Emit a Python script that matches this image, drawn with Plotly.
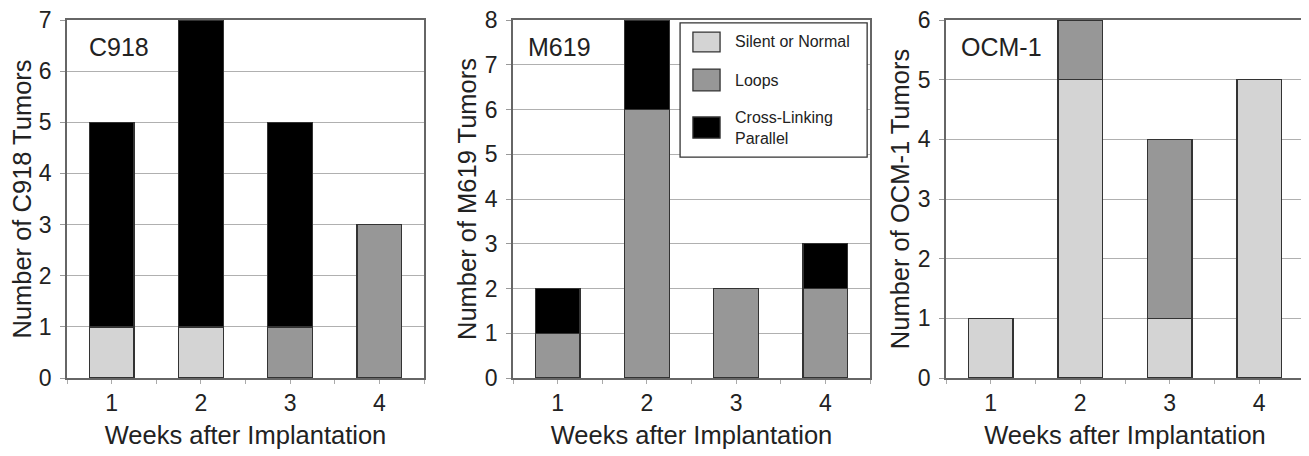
import plotly.graph_objects as go

weeks = [1, 2, 3, 4]

panels = ["C918", "M619", "OCM-1"]
y_titles = ["Number of C918 Tumors", "Number of M619 Tumors", "Number of OCM-1 Tumors"]
y_max = [7, 8, 6]

# stacked counts per panel: silent/normal, loops, cross-linking parallel
c918_silent = [1, 1, 0, 0]
c918_loops = [0, 0, 1, 3]
c918_cross = [4, 6, 4, 0]

m619_silent = [0, 0, 0, 0]
m619_loops = [1, 6, 2, 2]
m619_cross = [1, 2, 0, 1]

ocm1_silent = [1, 5, 1, 5]
ocm1_loops = [0, 1, 3, 0]
ocm1_cross = [0, 0, 0, 0]

series_names = ["Silent or Normal", "Loops", "Cross-Linking<br>Parallel"]
series_colors = ["#d4d4d4", "#979797", "#000000"]

data = [
    [c918_silent, c918_loops, c918_cross],
    [m619_silent, m619_loops, m619_cross],
    [ocm1_silent, ocm1_loops, ocm1_cross],
]

# page body has an 8px margin, so the figure is drawn 8px smaller
W, H = 1301, 448
x_domains = [[59 / W, 416 / W], [505 / W, 862 / W], [938 / W, 1296 / W]]
label_x = [0.056, 0.036, 0.036]

FONT = "Liberation Sans, Arial, sans-serif"
TXT = "#222222"
fig = go.Figure()

for p in range(3):
    xa = "x" if p == 0 else f"x{p+1}"
    ya = "y" if p == 0 else f"y{p+1}"
    for s in range(3):
        vals = [v if v else None for v in data[p][s]]
        fig.add_trace(go.Bar(
            x=weeks, y=vals, name=series_names[s],
            marker=dict(color=series_colors[s], line=dict(color="#333333", width=1.3)),
            width=0.5, xaxis=xa, yaxis=ya,
            legendgroup=f"g{s}", showlegend=False,
        ))

layout = dict(
    barmode="stack",
    width=W, height=H,
    margin=dict(l=0, r=0, t=12, b=78),
    plot_bgcolor="white", paper_bgcolor="white",
    font=dict(family=FONT, color=TXT, size=23),
    showlegend=False,
    annotations=[], shapes=[],
)

for p in range(3):
    sfx = "" if p == 0 else str(p + 1)
    layout[f"xaxis{sfx}"] = dict(
        domain=x_domains[p], anchor=f"y{sfx}", range=[0.5, 4.5],
        tickvals=weeks, ticktext=[str(w) for w in weeks],
        ticks="outside", ticklen=4, tickcolor="#aaaaaa", ticklabelstandoff=0,
        ticklabeloverflow="allow",
        minor=dict(tickvals=[0.5, 1.5, 2.5, 3.5, 4.5], ticks="outside", ticklen=4, tickcolor="#aaaaaa"),
        showgrid=False, showline=True, linecolor="#666666", linewidth=1.5, mirror=True,
        tickfont=dict(size=23), zeroline=False,
        title=dict(text="Weeks after Implantation", font=dict(size=25.5), standoff=11),
    )
    layout[f"yaxis{sfx}"] = dict(
        domain=[0, 1], anchor=f"x{sfx}", range=[0, y_max[p]], dtick=1,
        ticks="outside", ticklen=5, tickcolor="#999999", ticklabelstandoff=4,
        ticklabeloverflow="allow",
        showgrid=True, gridcolor="#b0b0b0", gridwidth=1,
        showline=True, linecolor="#666666", linewidth=1.5, mirror=True,
        tickfont=dict(size=23), zeroline=False,
        title=dict(text=y_titles[p], font=dict(size=25.5), standoff=1),
    )
    layout["annotations"].append(dict(
        text=panels[p], xref=f"x{sfx} domain", yref=f"y{sfx} domain",
        x=label_x[p], y=0.925, xanchor="left", yanchor="middle",
        showarrow=False, font=dict(size=25, color=TXT),
    ))

# legend drawn inside the M619 panel
lx, ly = "x2 domain", "y2 domain"
layout["shapes"].append(dict(type="rect", xref=lx, yref=ly, x0=0.468, x1=0.992, y0=0.617, y1=0.992,
                             line=dict(color="#333333", width=1.3), fillcolor="white", layer="above"))
sw_y = [(0.911, 0.966), (0.802, 0.863), (0.670, 0.729)]
txt_y = [0.939, 0.832, 0.698]
for s in range(3):
    layout["shapes"].append(dict(type="rect", xref=lx, yref=ly, x0=0.504, x1=0.580,
                                 y0=sw_y[s][0], y1=sw_y[s][1], layer="above",
                                 line=dict(color="#333333", width=1.3), fillcolor=series_colors[s]))
    layout["annotations"].append(dict(
        text=series_names[s], xref=lx, yref=ly, x=0.616, y=txt_y[s],
        xanchor="left", yanchor="middle", align="left", showarrow=False,
        font=dict(size=16, color=TXT),
    ))

fig.update_layout(**layout)
fig.write_html("out.html")
